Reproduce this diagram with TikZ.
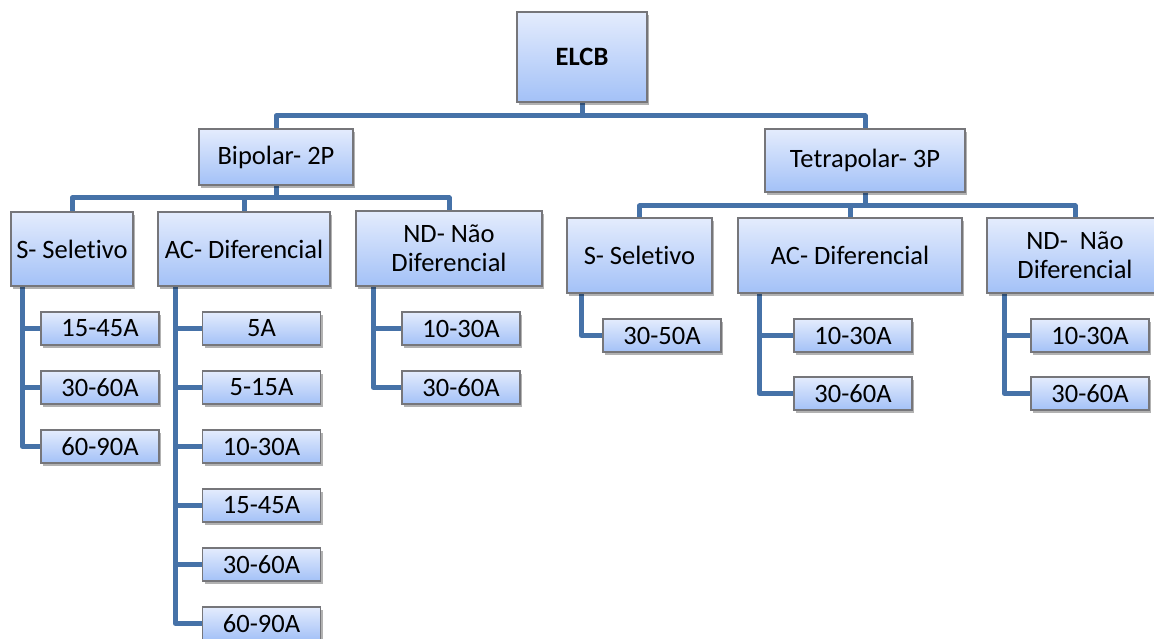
\documentclass[tikz,border=0pt]{standalone}
\usepackage{fontspec}
\setmainfont{Carlito}[Ligatures={NoCommon}]
\usetikzlibrary{calc,shadows,backgrounds}

\definecolor{linkblue}{RGB}{70,114,168}
\definecolor{boxtop}{RGB}{228,236,253}
\definecolor{boxbot}{RGB}{163,193,247}
\definecolor{boxedge}{RGB}{118,118,122}

\tikzset{
  box/.style={draw=boxedge, line width=1.2pt, top color=boxtop, bottom color=boxbot,
    drop shadow={shadow xshift=2pt, shadow yshift=-3pt, opacity=0.3, fill=black},
    inner sep=0pt, align=center, text=black,
    font=\fontsize{26.5}{29}\selectfont},
  leaf/.style={box, minimum width=118pt, minimum height=33pt},
  conn/.style={draw=linkblue, line width=5pt, line join=round, line cap=butt},
}

\begin{document}
\begin{tikzpicture}[x=1pt, y=-1pt]
\useasboundingbox (0,0) rectangle (1154,639);

% root and the two families
\node[box, minimum width=130pt, minimum height=90pt, font=\fontsize{26.5}{29}\selectfont\bfseries] (elcb) at (582,57) {ELCB};
\node[box, minimum width=154pt, minimum height=56pt] (bip) at (276,157) {Bipolar- 2P};
\node[box, minimum width=200pt, minimum height=63pt] (tet) at (865,160.5) {Tetrapolar- 3P};

% types under Bipolar
\node[box, minimum width=122pt, minimum height=74pt] (s1) at (72,249) {S- Seletivo};
\node[box, minimum width=172pt, minimum height=74pt] (ac1) at (244,249) {AC- Diferencial};
\node[box, minimum width=186pt, minimum height=75pt] (nd1) at (449,248.5) {ND- Não\\Diferencial};

% types under Tetrapolar
\node[box, minimum width=145pt, minimum height=75pt] (s2) at (639.5,255.5) {S- Seletivo};
\node[box, minimum width=224pt, minimum height=75pt] (ac2) at (850,255.5) {AC- Diferencial};
\node[box, minimum width=176pt, minimum height=75pt] (nd2) at (1075,255.5) {ND-\ \ Não\\Diferencial};

% current ratings, Bipolar
\node[leaf] (s1a) at (100,328.5) {15-45A};
\node[leaf] (s1b) at (100,387.5) {30-60A};
\node[leaf] (s1c) at (100,446.5) {60-90A};

\node[leaf] (ac1a) at (261.5,328.5) {5A};
\node[leaf] (ac1b) at (261.5,387.5) {5-15A};
\node[leaf] (ac1c) at (261.5,446.5) {10-30A};
\node[leaf] (ac1d) at (261.5,505.5) {15-45A};
\node[leaf] (ac1e) at (261.5,564.5) {30-60A};
\node[leaf] (ac1f) at (261.5,623.5) {60-90A};

\node[leaf] (nd1a) at (461,328.5) {10-30A};
\node[leaf] (nd1b) at (461,387.5) {30-60A};

% current ratings, Tetrapolar
\node[leaf] (s2a) at (662,335.5) {30-50A};

\node[leaf] (ac2a) at (853,335.5) {10-30A};
\node[leaf] (ac2b) at (853,393.5) {30-60A};

\node[leaf] (nd2a) at (1090,335.5) {10-30A};
\node[leaf] (nd2b) at (1090,393.5) {30-60A};

% junction points of the tree
\coordinate (j0) at (582,116);
\coordinate (j1) at (276,198);
\coordinate (j2) at (865,206);

\begin{scope}[on background layer]
  % root to families
  \draw[conn] (elcb.south) -- (j0);
  \draw[conn] (bip.north) |- (j0) -| (tet.north);
  % Bipolar to types
  \draw[conn] (bip.south) -- (j1);
  \draw[conn] (s1.north) |- (j1) -| (nd1.north);
  \draw[conn] (ac1.north) -- (ac1.north |- j1);
  % Tetrapolar to types
  \draw[conn] (tet.south) -- (j2);
  \draw[conn] (s2.north) |- (j2) -| (nd2.north);
  \draw[conn] (ac2.north) -- (ac2.north |- j2);

  % types to ratings
  \coordinate (s1v) at ($(s1.south west)+(12,0)$);
  \draw[conn] (s1v) |- (s1a.west);
  \draw[conn] (s1v) |- (s1b.west);
  \draw[conn] (s1v) |- (s1c.west);

  \coordinate (ac1v) at ($(ac1.south west)+(18,0)$);
  \draw[conn] (ac1v) |- (ac1a.west);
  \draw[conn] (ac1v) |- (ac1b.west);
  \draw[conn] (ac1v) |- (ac1c.west);
  \draw[conn] (ac1v) |- (ac1d.west);
  \draw[conn] (ac1v) |- (ac1e.west);
  \draw[conn] (ac1v) |- (ac1f.west);

  \coordinate (nd1v) at ($(nd1.south west)+(18,0)$);
  \draw[conn] (nd1v) |- (nd1a.west);
  \draw[conn] (nd1v) |- (nd1b.west);

  \coordinate (s2v) at ($(s2.south west)+(15,0)$);
  \draw[conn] (s2v) |- (s2a.west);

  \coordinate (ac2v) at ($(ac2.south west)+(22,0)$);
  \draw[conn] (ac2v) |- (ac2a.west);
  \draw[conn] (ac2v) |- (ac2b.west);

  \coordinate (nd2v) at ($(nd2.south west)+(18,0)$);
  \draw[conn] (nd2v) |- (nd2a.west);
  \draw[conn] (nd2v) |- (nd2b.west);
\end{scope}
\end{tikzpicture}
\end{document}
